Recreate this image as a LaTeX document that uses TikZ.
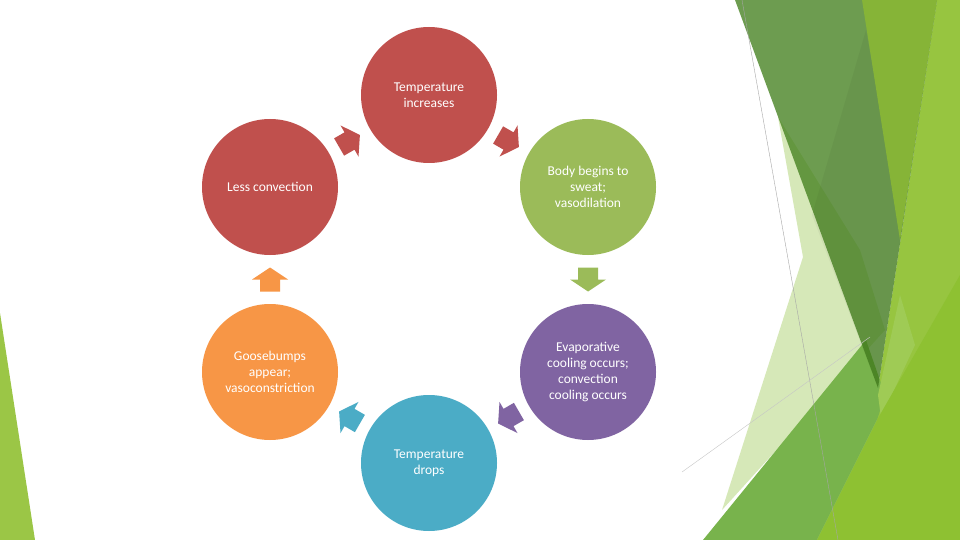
\documentclass[tikz,border=0pt]{standalone}
\usepackage{fontspec}
\setmainfont{Carlito}
\usetikzlibrary{calc}
\definecolor{cred}{HTML}{C0504D}
\definecolor{cgreen}{HTML}{9BBB59}
\definecolor{cpurple}{HTML}{8064A2}
\definecolor{cteal}{HTML}{4BACC6}
\definecolor{corange}{HTML}{F79646}
\definecolor{gLight}{HTML}{97C540}
\definecolor{gPale}{HTML}{D6E8B8}
\definecolor{gMid}{HTML}{78B34C}
\definecolor{gDark}{HTML}{45811F}
\definecolor{gYel}{HTML}{86B437}
\definecolor{gYel2}{HTML}{8EC132}
\definecolor{gSliver}{HTML}{9FCB55}
\definecolor{gLeft}{HTML}{9BC646}
\begin{document}
\begin{tikzpicture}[x=1pt,y=-1pt,
  circ/.style={circle, minimum size=136pt, inner sep=0pt, text=white, align=center,
    font=\fontsize{13.5}{16}\selectfont},
  thinline/.style={line width=0.4pt}]
\useasboundingbox (0,0) rectangle (960,540);
\fill[white] (0,0) rectangle (960,540);
% left sliver
\fill[gLeft] (0,313) -- (35,540) -- (0,540) -- cycle;
% right decoration
\fill[gLight] (937,0) -- (960,0) -- (960,540) -- (817,540) -- (877,420) -- (878,388) -- cycle;
\fill[gPale] (778,117) -- (803,257) -- (722,510) -- (885,330) -- (860,250) -- cycle;
\fill[gMid] (703,540) -- (866,340) -- (885,395) -- (877,420) -- (817,540) -- cycle;
\fill[gSliver] (878,395) -- (900,295) -- (915,345) -- (881,418) -- cycle;
\fill[gDark, opacity=0.78] (735,0) -- (937,0) -- (878,388) -- cycle;
\fill[black, opacity=0.04] (866,30) -- (812,215) -- (878,388) -- (902,230) -- cycle;
\fill[gYel] (862,0) -- (937,0) -- (900,240) -- cycle;
\fill[gYel2] (817,540) -- (877,420) -- (960,275) -- (960,540) -- cycle;
\coordinate (l1a) at (742,0);
\coordinate (l1b) at (838,540);
\coordinate (l2a) at (682,472);
\coordinate (l2b) at (870,337);
\draw[thinline, gray!70] (l1a) -- (l1b);
\draw[thinline, gray!45] (l2a) -- (l2b);
% cycle nodes
\node[circ, fill=cred] (ti) at (429,95) {Temperature\\increases};
\node[circ, fill=cgreen] (bs) at (588,187) {Body begins to\\sweat;\\vasodilation};
\node[circ, fill=cpurple] (ev) at (588,372) {Evaporative\\cooling occurs;\\convection\\cooling occurs};
\node[circ, fill=cteal] (td) at (429,463) {Temperature\\drops};
\node[circ, fill=corange] (gb) at (270,372) {Goosebumps\\appear;\\vasoconstriction};
\node[circ, fill=cred] (lc) at (270,187) {Less convection};
% block arrows
\foreach \a/\b/\ang/\col in {lc/ti/30/cred, ti/bs/-30/cred, bs/ev/-90/cgreen, ev/td/-150/cpurple, td/gb/150/cteal, gb/lc/90/corange}
  \fill[\col, shift={($(\a)!0.5!(\b)$)}, rotate=\ang]
    (-12,-10) -- (0,-10) -- (0,-18) -- (12,0) -- (0,18) -- (0,10) -- (-12,10) -- cycle;
\end{tikzpicture}
\end{document}
